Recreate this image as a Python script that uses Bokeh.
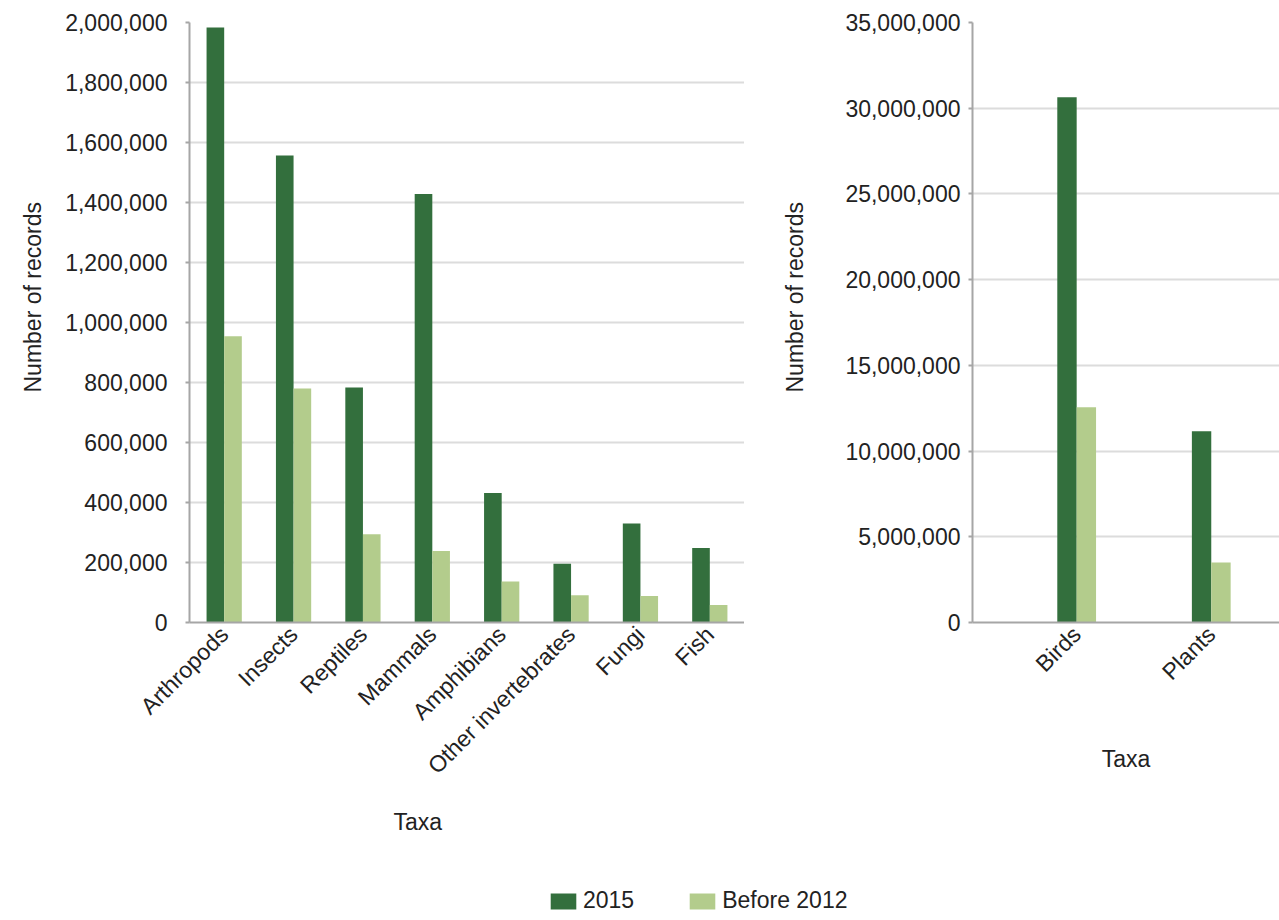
import math

from bokeh.embed import file_html
from bokeh.layouts import column, row
from bokeh.models import (ColumnDataSource, FactorRange, FixedTicker, Legend,
                          LegendItem, NumeralTickFormatter, Range1d, Title)
from bokeh.plotting import figure
from bokeh.resources import INLINE
from bokeh.transform import dodge

# Taxa with fewer records (left panel)
small_taxa = ["Arthropods", "Insects", "Reptiles", "Mammals", "Amphibians",
              "Other invertebrates", "Fungi", "Fish"]
small_2015 = [1_983_000, 1_557_000, 783_000, 1_428_000, 432_000, 196_000, 330_000, 248_000]
small_before_2012 = [954_000, 780_000, 294_000, 238_000, 137_000, 91_000, 88_000, 58_000]
small_ticks = list(range(0, 2_000_001, 200_000))

# Taxa with many records (right panel)
large_taxa = ["Birds", "Plants"]
large_2015 = [30_640_000, 11_150_000]
large_before_2012 = [12_550_000, 3_500_000]
large_ticks = list(range(0, 35_000_001, 5_000_000))

series_labels = ["2015", "Before 2012"]

DARK = "#336F3D"
LIGHT = "#B3CC8C"
FONT = "Liberation Sans"
TEXT = "#222222"
AXIS = "#A6A6A6"
GRID = "#DCDCDC"
FS = "23px"


def style(p):
    p.outline_line_color = None
    p.xgrid.visible = False
    p.ygrid.grid_line_color = GRID
    p.ygrid.grid_line_width = 2
    for ax in (p.xaxis[0], p.yaxis[0]):
        ax.axis_line_color = AXIS
        ax.axis_line_width = 2
        ax.major_tick_line_color = AXIS
        ax.major_tick_line_width = 2
        ax.minor_tick_line_color = None
        ax.major_label_text_font = FONT
        ax.major_label_text_font_size = FS
        ax.major_label_text_color = TEXT
    p.yaxis.major_tick_in = 0
    p.yaxis.major_tick_out = 4
    p.xaxis.major_tick_in = 0
    p.xaxis.major_tick_out = 0
    p.xaxis.major_label_orientation = math.pi / 4
    p.yaxis.formatter = NumeralTickFormatter(format="0,0")


def side_title(text, align, offset, standoff):
    return Title(text=text, align=align, offset=offset, text_font=FONT,
                 text_font_size=FS, text_font_style="normal", text_color=TEXT,
                 standoff=standoff)


# Left panel
src_small = ColumnDataSource(dict(taxon=small_taxa, y2015=small_2015, before=small_before_2012))
p1 = figure(x_range=FactorRange(*small_taxa), y_range=Range1d(0, small_ticks[-1]),
            width=744, height=860, output_backend="svg", toolbar_location=None,
            min_border_left=189, min_border_right=0, min_border_top=22,
            min_border_bottom=238)
bw1 = 0.254
p1.vbar(x=dodge("taxon", -bw1 / 2, range=p1.x_range), top="y2015", width=bw1,
        source=src_small, fill_color=DARK, line_color=None)
p1.vbar(x=dodge("taxon", bw1 / 2, range=p1.x_range), top="before", width=bw1,
        source=src_small, fill_color=LIGHT, line_color=None)
style(p1)
p1.yaxis.ticker = FixedTicker(ticks=small_ticks)
p1.yaxis.major_label_standoff = 18
p1.xaxis.major_label_standoff = 8
p1.add_layout(side_title("Number of records", "left", 230, 34), "left")
p1.add_layout(side_title("Taxa", "left", 204, 31), "below")

# Right panel
large_pos = [i + 1 for i in range(len(large_taxa))]
bw2 = 0.144
src_large = ColumnDataSource(dict(
    x_dark=[x - bw2 / 2 for x in large_pos],
    x_light=[x + bw2 / 2 for x in large_pos],
    y2015=large_2015, before=large_before_2012))
p2 = figure(x_range=Range1d(0.226, 2.507), y_range=Range1d(0, large_ticks[-1]),
            width=535, height=860, output_backend="svg", toolbar_location=None,
            min_border_left=227, min_border_right=0, min_border_top=22,
            min_border_bottom=238)
p2.vbar(x="x_dark", top="y2015", width=bw2, source=src_large,
        fill_color=DARK, line_color=None)
p2.vbar(x="x_light", top="before", width=bw2, source=src_large,
        fill_color=LIGHT, line_color=None)
style(p2)
p2.yaxis.ticker = FixedTicker(ticks=large_ticks)
p2.yaxis.major_label_standoff = 8
p2.xaxis.ticker = FixedTicker(ticks=large_pos)
p2.xaxis.major_label_overrides = {pos: name for pos, name in zip(large_pos, large_taxa)}
p2.xaxis.major_label_standoff = 8
p2.add_layout(side_title("Number of records", "left", 230, 70), "left")
p2.add_layout(side_title("Taxa", "center", 0, 93), "below")

# Shared legend strip (swatch renderers sit outside the visible range)
p3 = figure(x_range=Range1d(0, 1), y_range=Range1d(0, 1), width=1279, height=60,
            output_backend="svg", toolbar_location=None, x_axis_type=None,
            y_axis_type=None, min_border=0)
p3.outline_line_color = None
p3.grid.visible = False
r_dark = p3.vbar(x=[10], top=[1], width=0.1, fill_color=DARK, line_color=None)
r_light = p3.vbar(x=[10], top=[1], width=0.1, fill_color=LIGHT, line_color=None)
legend = Legend(items=[LegendItem(label=series_labels[0], renderers=[r_dark]),
                       LegendItem(label=series_labels[1], renderers=[r_light])],
                orientation="horizontal", location=(547, 6), glyph_width=32,
                glyph_height=20, label_standoff=4, spacing=52, padding=0, margin=0,
                border_line_color=None, background_fill_alpha=0,
                label_text_font=FONT, label_text_font_size=FS,
                label_text_color=TEXT, label_height=20)
p3.add_layout(legend)

layout = column(row(p1, p2), p3)

open("out.html", "w").write(file_html(layout, INLINE))
